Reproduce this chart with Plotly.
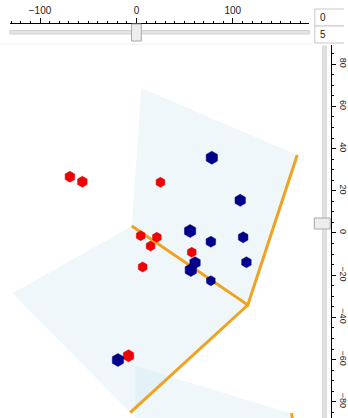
import plotly.graph_objects as go

# ---- data (projected screen positions of the 3D scene) ----
red_x = [70.7, 83.3, 162.3, 142.3, 158.7, 152.3, 144.3, 194.0, 130.0]
red_y = [176.7, 181.7, 182.3, 235.7, 237.3, 246.0, 267.0, 252.3, 355.7]
red_size = [11, 11, 10, 10, 10, 10, 10, 10, 12]

blue_x = [214.3, 243.0, 192.3, 213.3, 246.0, 249.3, 197.3, 193.0, 213.3, 119.3]
blue_y = [157.7, 200.3, 231.0, 241.7, 237.3, 262.3, 262.7, 270.0, 280.7, 360.0]
blue_size = [13, 12, 13, 11, 11, 11, 12, 13, 10, 13]

# plane outlines (screen coords)
plane1_x = [143, 300.7, 250.7, 133.3, 143]
plane1_y = [88, 155, 305, 226, 88]
plane2_x = [12.7, 133.3, 250.7, 131.7, 12.7]
plane2_y = [293.3, 226, 305, 412.7, 293.3]
plane3_x = [137, 296, 296, 137, 137]
plane3_y = [366, 414, 430, 430, 366]

# orange edges
edge_x = [133.3, 250.7, 300.7, None, 250.7, 131.7, None, 295, 296.5]
edge_y = [226, 305, 155, None, 305, 412.7, None, 413, 425]

# rulers
top_ticks = [-100, 0, 100]
top_range = [-131.3, 179.5]
right_ticks = [80, 60, 40, 20, 0, -20, -40, -60, -80]
right_range = [-87.7, 89.1]
box_values = ["0", "5"]

W, H = 348, 418
fig = go.Figure()

plane_fill = "rgba(190,225,240,0.25)"
for px, py in [(plane3_x, plane3_y), (plane2_x, plane2_y), (plane1_x, plane1_y)]:
    fig.add_trace(go.Scatter(x=px, y=py, mode="lines", fill="toself",
                             fillcolor=plane_fill, line=dict(width=0),
                             hoverinfo="skip", showlegend=False))

fig.add_trace(go.Scatter(x=edge_x, y=edge_y, mode="lines",
                         line=dict(color="#EFA320", width=3),
                         hoverinfo="skip", showlegend=False))

fig.add_trace(go.Scatter(x=red_x, y=red_y, mode="markers",
                         marker=dict(symbol="hexagon", size=red_size, color="#F20000",
                                     opacity=1, line=dict(width=0.5, color="#E00000")),
                         showlegend=False))
fig.add_trace(go.Scatter(x=blue_x, y=blue_y, mode="markers",
                         marker=dict(symbol="hexagon", size=blue_size, color="#00008C",
                                     opacity=1, line=dict(width=0.5, color="#000080")),
                         showlegend=False))

# dummy traces so the ruler axes render
fig.add_trace(go.Scatter(x=[0], y=[0], xaxis="x2", yaxis="y3", mode="markers",
                         marker=dict(opacity=0), hoverinfo="skip", showlegend=False))
fig.add_trace(go.Scatter(x=[0], y=[0], xaxis="x3", yaxis="y2", mode="markers",
                         marker=dict(opacity=0), hoverinfo="skip", showlegend=False))

shapes = []
# top slider track and thumb
shapes.append(dict(type="rect", xref="x", yref="y", x0=10, x1=313, y0=30.5, y1=34,
                   fillcolor="#E4E4E4", line=dict(color="#D2D2D2", width=1), layer="above"))
shapes.append(dict(type="rect", xref="x", yref="y", x0=133, x1=143, y0=24, y1=41,
                   fillcolor="#EDEDED", line=dict(color="#A8A8A8", width=1), layer="above"))
# right slider track and thumb
shapes.append(dict(type="rect", xref="x", yref="y", x0=326.5, x1=330, y0=46, y1=420,
                   fillcolor="#E4E4E4", line=dict(color="#D2D2D2", width=1), layer="above"))
shapes.append(dict(type="rect", xref="x", yref="y", x0=318, x1=334, y0=218, y1=229,
                   fillcolor="#EDEDED", line=dict(color="#A8A8A8", width=1), layer="above"))
# text boxes
shapes.append(dict(type="rect", xref="x", yref="y", x0=318.5, x1=349, y0=9, y1=26,
                   fillcolor="white", line=dict(color="#C8C8C8", width=1), layer="above"))
shapes.append(dict(type="rect", xref="x", yref="y", x0=318.5, x1=349, y0=26, y1=43,
                   fillcolor="white", line=dict(color="#C8C8C8", width=1), layer="above"))
# faint separator
shapes.append(dict(type="line", xref="x", yref="y", x0=0, x1=315, y0=44, y1=44,
                   line=dict(color="#F0F0F0", width=1), layer="below"))

annotations = []
for i, v in enumerate(box_values):
    annotations.append(dict(x=322, y=17.5 + 17 * i, xref="x", yref="y", text=v,
                            showarrow=False, xanchor="left", yanchor="middle",
                            font=dict(family="Liberation Sans", size=10, color="#222")))

fig.update_layout(
    width=W, height=H, margin=dict(l=0, r=0, t=0, b=0),
    paper_bgcolor="white", plot_bgcolor="rgba(0,0,0,0)",
    xaxis=dict(range=[0, W], domain=[0, 1], visible=False, fixedrange=True),
    yaxis=dict(range=[H, 0], domain=[0, 1], visible=False, fixedrange=True),
    # top ruler
    xaxis2=dict(anchor="free", position=1 - 23 / H, side="top",
                domain=[10 / W, 313 / W], range=top_range,
                tickvals=top_ticks, ticks="outside", ticklen=5, tickcolor="black",
                showline=True, linecolor="black", linewidth=1, showgrid=False,
                zeroline=False, tickfont=dict(family="Liberation Sans", size=10, color="#222"),
                minor=dict(dtick=10, ticks="outside", ticklen=2, tickcolor="black"),
                fixedrange=True),
    yaxis3=dict(anchor="x2", domain=[1 - 23 / H, 1 - 20 / H], range=[1, 2],
                visible=False, fixedrange=True),
    # right ruler
    yaxis2=dict(anchor="free", position=335 / W, side="right",
                domain=[0, 1 - 45 / H], range=right_range,
                tickvals=right_ticks, ticks="outside", ticklen=4, tickcolor="black",
                tickangle=90,
                showline=True, linecolor="black", linewidth=1, showgrid=False,
                zeroline=False, tickfont=dict(family="Liberation Sans", size=9, color="#222"),
                minor=dict(dtick=5, ticks="outside", ticklen=2, tickcolor="black"),
                fixedrange=True),
    xaxis3=dict(anchor="y2", domain=[332 / W, 335 / W], range=[1, 2],
                visible=False, fixedrange=True),
    shapes=shapes, annotations=annotations,
)

fig.write_html("out.html")
